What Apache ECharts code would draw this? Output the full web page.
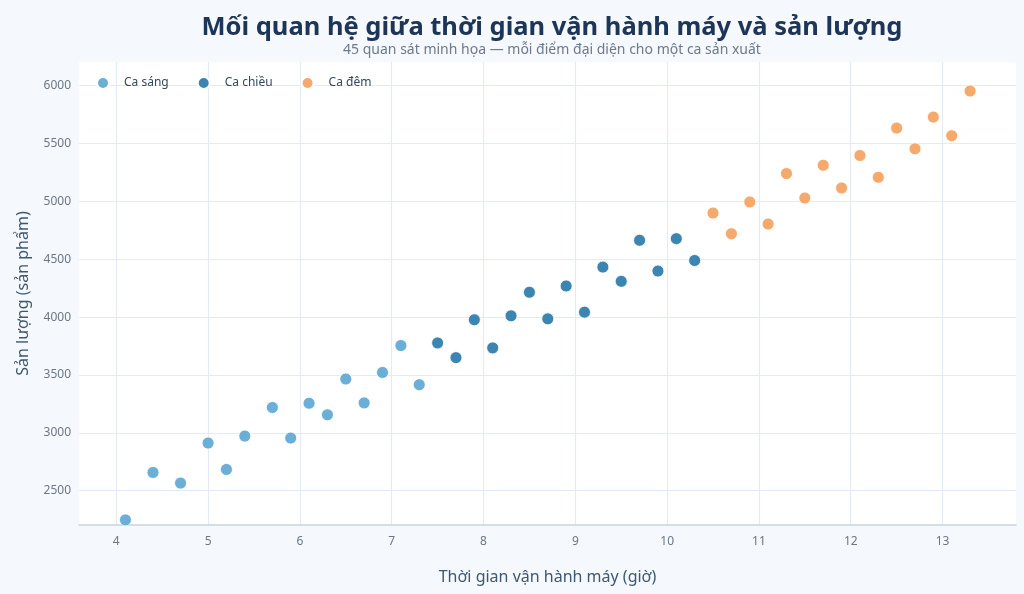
<!DOCTYPE html>
<html>
<head>
<meta charset="utf-8">
<script src="https://cdn.jsdelivr.net/npm/echarts@6/dist/echarts.min.js"></script>
<style>
  html, body { margin: 0; padding: 0; background: #f5f8fc; }
  #chart { width: 1024px; height: 594px; }
</style>
</head>
<body>
<div id="chart"></div>
<script>
// ca sáng
var morningHours = [4.1, 4.4, 4.7, 5.0, 5.2, 5.4, 5.7, 5.9, 6.1, 6.3, 6.5, 6.7, 6.9, 7.1, 7.3];
var morningOutput = [2248, 2658, 2566, 2912, 2684, 2972, 3219, 2955, 3256, 3156, 3465, 3259, 3522, 3754, 3416];
// ca chiều
var afternoonHours = [7.5, 7.7, 7.9, 8.1, 8.3, 8.5, 8.7, 8.9, 9.1, 9.3, 9.5, 9.7, 9.9, 10.1, 10.3];
var afternoonOutput = [3777, 3650, 3977, 3734, 4011, 4215, 3985, 4269, 4043, 4432, 4309, 4664, 4398, 4678, 4489];
// ca đêm
var nightHours = [10.5, 10.7, 10.9, 11.1, 11.3, 11.5, 11.7, 11.9, 12.1, 12.3, 12.5, 12.7, 12.9, 13.1, 13.3];
var nightOutput = [4899, 4720, 4995, 4804, 5240, 5029, 5312, 5116, 5396, 5208, 5633, 5454, 5728, 5567, 5953];

var seriesNames = ['Ca sáng', 'Ca chiều', 'Ca đêm'];
var seriesColors = ['#6baed6', '#3d85b1', '#f3aa6c'];

function pairs(xs, ys) {
  return xs.map(function (x, i) { return [x, ys[i]]; });
}

var groups = [
  pairs(morningHours, morningOutput),
  pairs(afternoonHours, afternoonOutput),
  pairs(nightHours, nightOutput)
];

var chart = echarts.init(document.getElementById('chart'));

var option = {
  backgroundColor: '#f5f8fc',
  textStyle: { fontFamily: 'Noto Sans' },
  title: [{
    text: 'Mối quan hệ giữa thời gian vận hành máy và sản lượng',
    left: 547,
    top: 10,
    textAlign: 'center',
    textStyle: { fontSize: 25.5, fontWeight: 'bold', color: '#1d3557', fontFamily: 'Noto Sans' }
  }, {
    text: '45 quan sát minh họa — mỗi điểm đại diện cho một ca sản xuất',
    left: 547,
    top: 38,
    textAlign: 'center',
    textStyle: { fontSize: 14, fontWeight: 'normal', color: '#6c7a8b', fontFamily: 'Noto Sans' }
  }],
  legend: {
    data: seriesNames,
    left: 91,
    top: 71,
    icon: 'circle',
    itemWidth: 32,
    itemHeight: 12,
    itemGap: 28,
    textStyle: { fontSize: 12, color: '#34495e' }
  },
  grid: {
    left: 79,
    right: 8,
    top: 62,
    bottom: 69,
    show: true,
    backgroundColor: '#ffffff',
    borderWidth: 0
  },
  xAxis: {
    type: 'value',
    min: 3.594,
    max: 13.8,
    splitNumber: 10,
    name: 'Thời gian vận hành máy (giờ)',
    nameLocation: 'middle',
    nameGap: 44,
    nameTextStyle: { fontSize: 16, color: '#3e5872' },
    axisLine: { show: true, lineStyle: { color: '#c8d3df', width: 1.5 } },
    axisTick: { show: false },
    axisLabel: { color: '#6b7785', fontSize: 12, margin: 11, showMinLabel: false, showMaxLabel: false },
    splitLine: { show: true, showMinLine: false, showMaxLine: false, lineStyle: { color: '#e4ebf2', width: 1.2 } }
  },
  yAxis: {
    type: 'value',
    min: 2204,
    max: 6204,
    splitNumber: 8,
    name: 'Sản lượng (sản phẩm)',
    nameLocation: 'middle',
    nameGap: 48,
    nameTextStyle: { fontSize: 16, color: '#3e5872' },
    axisLine: { show: false },
    axisTick: { show: false },
    axisLabel: {
      color: '#6b7785', fontSize: 12, margin: 8, showMinLabel: false, showMaxLabel: false,
      formatter: function (v) { return String(v); }
    },
    splitLine: { show: true, showMinLine: false, showMaxLine: false, lineStyle: { color: '#e4ebf2', width: 1.2 } }
  },
  series: groups.map(function (g, i) {
    return {
      name: seriesNames[i],
      type: 'scatter',
      data: g,
      symbol: 'circle',
      symbolSize: 12,
      itemStyle: { color: seriesColors[i], borderColor: '#ffffff', borderWidth: 0.8, opacity: 1 }
    };
  })
};

chart.setOption(option);
</script>
</body>
</html>
